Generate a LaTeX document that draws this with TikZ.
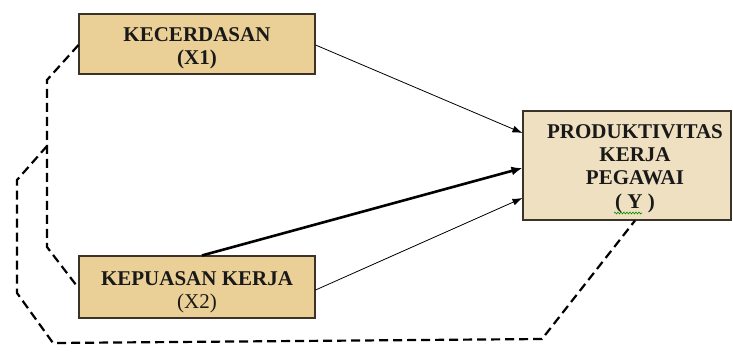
\documentclass[tikz,border=0pt]{standalone}
\usepackage{fontspec}
\setmainfont{Liberation Serif}
\usetikzlibrary{arrows.meta,calc,decorations.pathmorphing}
\definecolor{tanA}{RGB}{234,207,150}
\definecolor{tanY}{RGB}{238,224,192}
\definecolor{edge}{RGB}{60,50,40}
\begin{document}
\begin{tikzpicture}[x=1pt,y=-1pt,
  box/.style={draw=edge,line width=1.1pt,inner sep=0pt},
  txt/.style={align=center,inner sep=0pt,text=black!90,
    font=\fontsize{21}{23.4}\selectfont\bfseries},
  link/.style={line width=0.8pt,-{Latex[length=10pt,width=7pt]}},
  strong/.style={line width=2.6pt,-{Latex[length=11pt,width=9pt]}},
  corr/.style={line width=2.2pt,dash pattern=on 9pt off 5pt}]
\useasboundingbox (0,0) rectangle (733,351);
\node[box,fill=tanA,minimum width=236pt,minimum height=60pt] (X1) at (197,44) {};
\node[box,fill=tanA,minimum width=236pt,minimum height=62pt] (X2) at (197,287) {};
\node[box,fill=tanY,minimum width=208pt,minimum height=109pt] (Y) at (627,165.5) {};
\node[txt] (tX1) at ($(X1.center)+(0,4.5)$) {KECERDASAN\\(X1)};
\node[txt] (tX2) at ($(X2.center)+(0,5)$) {KEPUASAN KERJA\\\mdseries(X2)};
\node[txt] (tY) at ($(Y.center)+(8,3)$) {PRODUKTIVITAS\\KERJA\\PEGAWAI\\( Y )};
\draw[green!55!black,line width=0.6pt,decorate,decoration={snake,amplitude=0.9pt,segment length=3pt}] (614,213) -- (642,213);
\draw[link] ($(X1.east)+(0,1)$) -- ($(Y.west)+(0,-32.5)$);
\draw[strong] ($(X2.north)+(5,0)$) -- ($(Y.west)+(0,2.5)$);
\draw[link] ($(X2.east)+(0,3)$) -- ($(Y.west)+(0,32.5)$);
\coordinate (a1) at (47,80);
\coordinate (a2) at (47,247);
\coordinate (j) at (47,146);
\coordinate (b1) at (17,180);
\coordinate (b2) at (17,293);
\coordinate (b3) at (53,343);
\coordinate (b4) at (542,339);
\draw[corr] ($(X1.west)+(0,1)$) -- (a1) -- (a2) -- ($(X2.west)+(0,1)$);
\draw[corr] (j) -- (b1) -- (b2) -- (b3) -- (b4) -- ($(Y.south)+(8,0)$);
\end{tikzpicture}
\end{document}
